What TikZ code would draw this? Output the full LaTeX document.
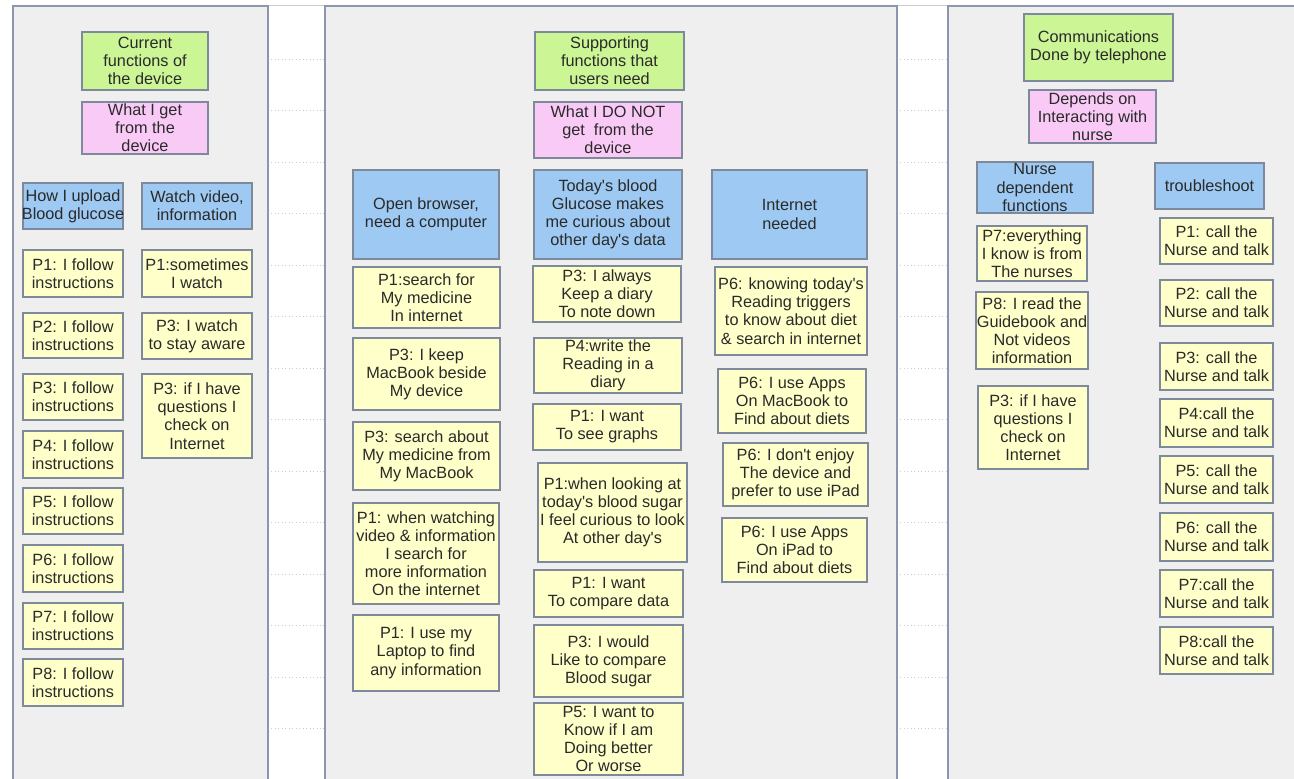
\documentclass[tikz,border=0pt]{standalone}
\usepackage{fontspec}
\setmainfont{Liberation Sans}
\definecolor{panelfill}{HTML}{EFEFEF}
\definecolor{panelline}{HTML}{8C96AE}
\definecolor{boxline}{HTML}{7F899C}
\definecolor{cgreen}{HTML}{CCF596}
\definecolor{cpink}{HTML}{FACAF7}
\definecolor{cblue}{HTML}{9DC9F2}
\definecolor{cyellow}{HTML}{FFFFCA}
\definecolor{ink}{HTML}{2A2A2A}
\definecolor{gridline}{HTML}{C8CCD4}

\tikzset{
  panel/.style={fill=panelfill, draw=panelline, line width=1.1pt},
  boxbase/.style={draw=boxline, line width=0.8pt, inner sep=0pt, rectangle},
  gbox/.style={boxbase, fill=cgreen},
  pbox/.style={boxbase, fill=cpink},
  bbox/.style={boxbase, fill=cblue},
  ybox/.style={boxbase, fill=cyellow},
  txt/.style={inner sep=0pt, align=center, text=ink, font=\fontsize{12.2}{13.6}\selectfont},
  gapline/.style={draw=gridline, dotted, line width=0.6pt}
}

% straight apostrophe
\newcommand\ap{\textquotesingle}

% #1 name, #2 style, #3 left, #4 top, #5 right, #6 bottom, #7 text
\newcommand\boxat[7]{%
  \node[#2, minimum width={(#5-#3)*0.75pt}, minimum height={(#6-#4)*0.75pt}] (#1) at ({(#3+#5)/2},{(#4+#6)/2}) {};
  \node[txt] (#1-t) at (#1.center) {#7};
}

\begin{document}
\begin{tikzpicture}[x=0.75pt, y=-0.75pt]
\useasboundingbox (0,0) rectangle (1294,778);
\clip (0,0) rectangle (1294,778);
\fill[white] (0,0) rectangle (1294,778);

% thin top rule and dotted guide lines between the panels
\draw[draw=gridline, line width=0.6pt] (13,5) -- (1294,5);
\foreach \k in {0,...,13}{
  \draw[gapline] (268,{59+51.5*\k}) -- (325,{59+51.5*\k});
  \draw[gapline] (897,{59+51.5*\k}) -- (948,{59+51.5*\k});
}

% three panels
\draw[panel] (13,6) rectangle (268,800);
\draw[panel] (325,6) rectangle (897,800);
\draw[panel] (948,6) rectangle (1310,800);

% ---------- left panel ----------
\boxat{g1}{gbox}{82}{32}{208}{90}{Current\\functions of\\the device}
\boxat{p1}{pbox}{82}{102}{208}{154}{What I get\\from the\\device}
\boxat{b1}{bbox}{23}{183}{123}{229}{How I upload\\Blood glucose}
\boxat{b2}{bbox}{142}{183}{252}{229}{Watch video,\\information}

\boxat{la1}{ybox}{23}{250}{123}{297}{P1: I follow\\instructions}
\boxat{la2}{ybox}{23}{313}{123}{358}{P2: I follow\\instructions}
\boxat{la3}{ybox}{23}{374}{123}{420}{P3: I follow\\instructions}
\boxat{la4}{ybox}{23}{431}{123}{478}{P4: I follow\\instructions}
\boxat{la5}{ybox}{23}{488}{123}{534}{P5: I follow\\instructions}
\boxat{la6}{ybox}{23}{545}{123}{592}{P6: I follow\\instructions}
\boxat{la7}{ybox}{23}{603}{123}{649}{P7: I follow\\instructions}
\boxat{la8}{ybox}{23}{659}{123}{706}{P8: I follow\\instructions}

\boxat{lb1}{ybox}{142}{250}{252}{297}{P1:sometimes\\I watch}
\boxat{lb2}{ybox}{142}{313}{252}{359}{P3: I watch\\to stay aware}
\boxat{lb3}{ybox}{142}{374}{252}{458}{P3: if I have\\questions I\\check on\\Internet}

% ---------- middle panel ----------
\boxat{g2}{gbox}{535}{32}{684}{90}{Supporting\\functions that\\users need}
\boxat{p2}{pbox}{534}{102}{682}{158}{What I DO NOT\\get\ \ from the\\device}
\boxat{b3}{bbox}{353}{170}{499}{259}{Open browser,\\need a computer}
\boxat{b4}{bbox}{534}{170}{682}{259}{Today\ap s blood\\Glucose makes\\me curious about\\other day\ap s data}
\boxat{b5}{bbox}{712}{170}{867}{259}{Internet\\needed}

\boxat{ma1}{ybox}{353}{267}{500}{328}{P1:search for\\My medicine\\In internet}
\boxat{ma2}{ybox}{353}{338}{500}{410}{P3: I keep\\MacBook beside\\My device}
\boxat{ma3}{ybox}{353}{422}{500}{490}{P3: search about\\My medicine from\\My MacBook}
\boxat{ma4}{ybox}{353}{503}{499}{604}{P1: when watching\\video \& information\\I search for\\more information\\On the internet}
\boxat{ma5}{ybox}{353}{615}{499}{691}{P1: I use my\\Laptop to find\\any information}

\boxat{mb1}{ybox}{533}{266}{681}{322}{P3: I always\\Keep a diary\\To note down}
\boxat{mb2}{ybox}{534}{338}{682}{393}{P4:write the\\Reading in a\\diary}
\boxat{mb3}{ybox}{533}{404}{681}{450}{P1: I want\\To see graphs}
\boxat{mb4}{ybox}{538}{463}{687}{562}{P1:when looking at\\today\ap s blood sugar\\I feel curious to look\\At other day\ap s}
\boxat{mb5}{ybox}{534}{570}{683}{617}{P1: I want\\To compare data}
\boxat{mb6}{ybox}{534}{625}{683}{697}{P3: I would\\Like to compare\\Blood sugar}
\boxat{mb7}{ybox}{534}{703}{683}{775}{P5: I want to\\Know if I am\\Doing better\\Or worse}

\boxat{mc1}{ybox}{715}{267}{867}{355}{P6: knowing today\ap s\\Reading triggers\\to know about diet\\\& search in internet}
\boxat{mc2}{ybox}{718}{369}{866}{433}{P6: I use Apps\\On MacBook to\\Find about diets}
\boxat{mc3}{ybox}{723}{443}{868}{506}{P6: I don\ap t enjoy\\The device and\\prefer to use iPad}
\boxat{mc4}{ybox}{722}{518}{867}{582}{P6: I use Apps\\On iPad to\\Find about diets}

% ---------- right panel ----------
\boxat{g3}{gbox}{1024}{14}{1173}{81}{Communications\\Done by telephone}
\boxat{p3}{pbox}{1029}{90}{1156}{143}{Depends on\\Interacting with\\nurse}
\boxat{b6}{bbox}{977}{162}{1093}{213}{Nurse\\dependent\\functions}
\boxat{b7}{bbox}{1155}{163}{1264}{209}{troubleshoot}

\boxat{ra1}{ybox}{977}{226}{1087}{281}{P7:everything\\I know is from\\The nurses}
\boxat{ra2}{ybox}{976}{292}{1088}{369}{P8: I read the\\Guidebook and\\Not videos\\information}
\boxat{ra3}{ybox}{978}{386}{1088}{469}{P3: if I have\\questions I\\check on\\Internet}

\boxat{rb1}{ybox}{1160}{218}{1273}{264}{P1: call the\\Nurse and talk}
\boxat{rb2}{ybox}{1160}{280}{1273}{326}{P2: call the\\Nurse and talk}
\boxat{rb3}{ybox}{1160}{343}{1273}{390}{P3: call the\\Nurse and talk}
\boxat{rb4}{ybox}{1160}{399}{1273}{447}{P4:call the\\Nurse and talk}
\boxat{rb5}{ybox}{1160}{456}{1273}{503}{P5: call the\\Nurse and talk}
\boxat{rb6}{ybox}{1160}{513}{1273}{561}{P6: call the\\Nurse and talk}
\boxat{rb7}{ybox}{1160}{570}{1273}{617}{P7:call the\\Nurse and talk}
\boxat{rb8}{ybox}{1160}{627}{1273}{674}{P8:call the\\Nurse and talk}
\end{tikzpicture}
\end{document}
